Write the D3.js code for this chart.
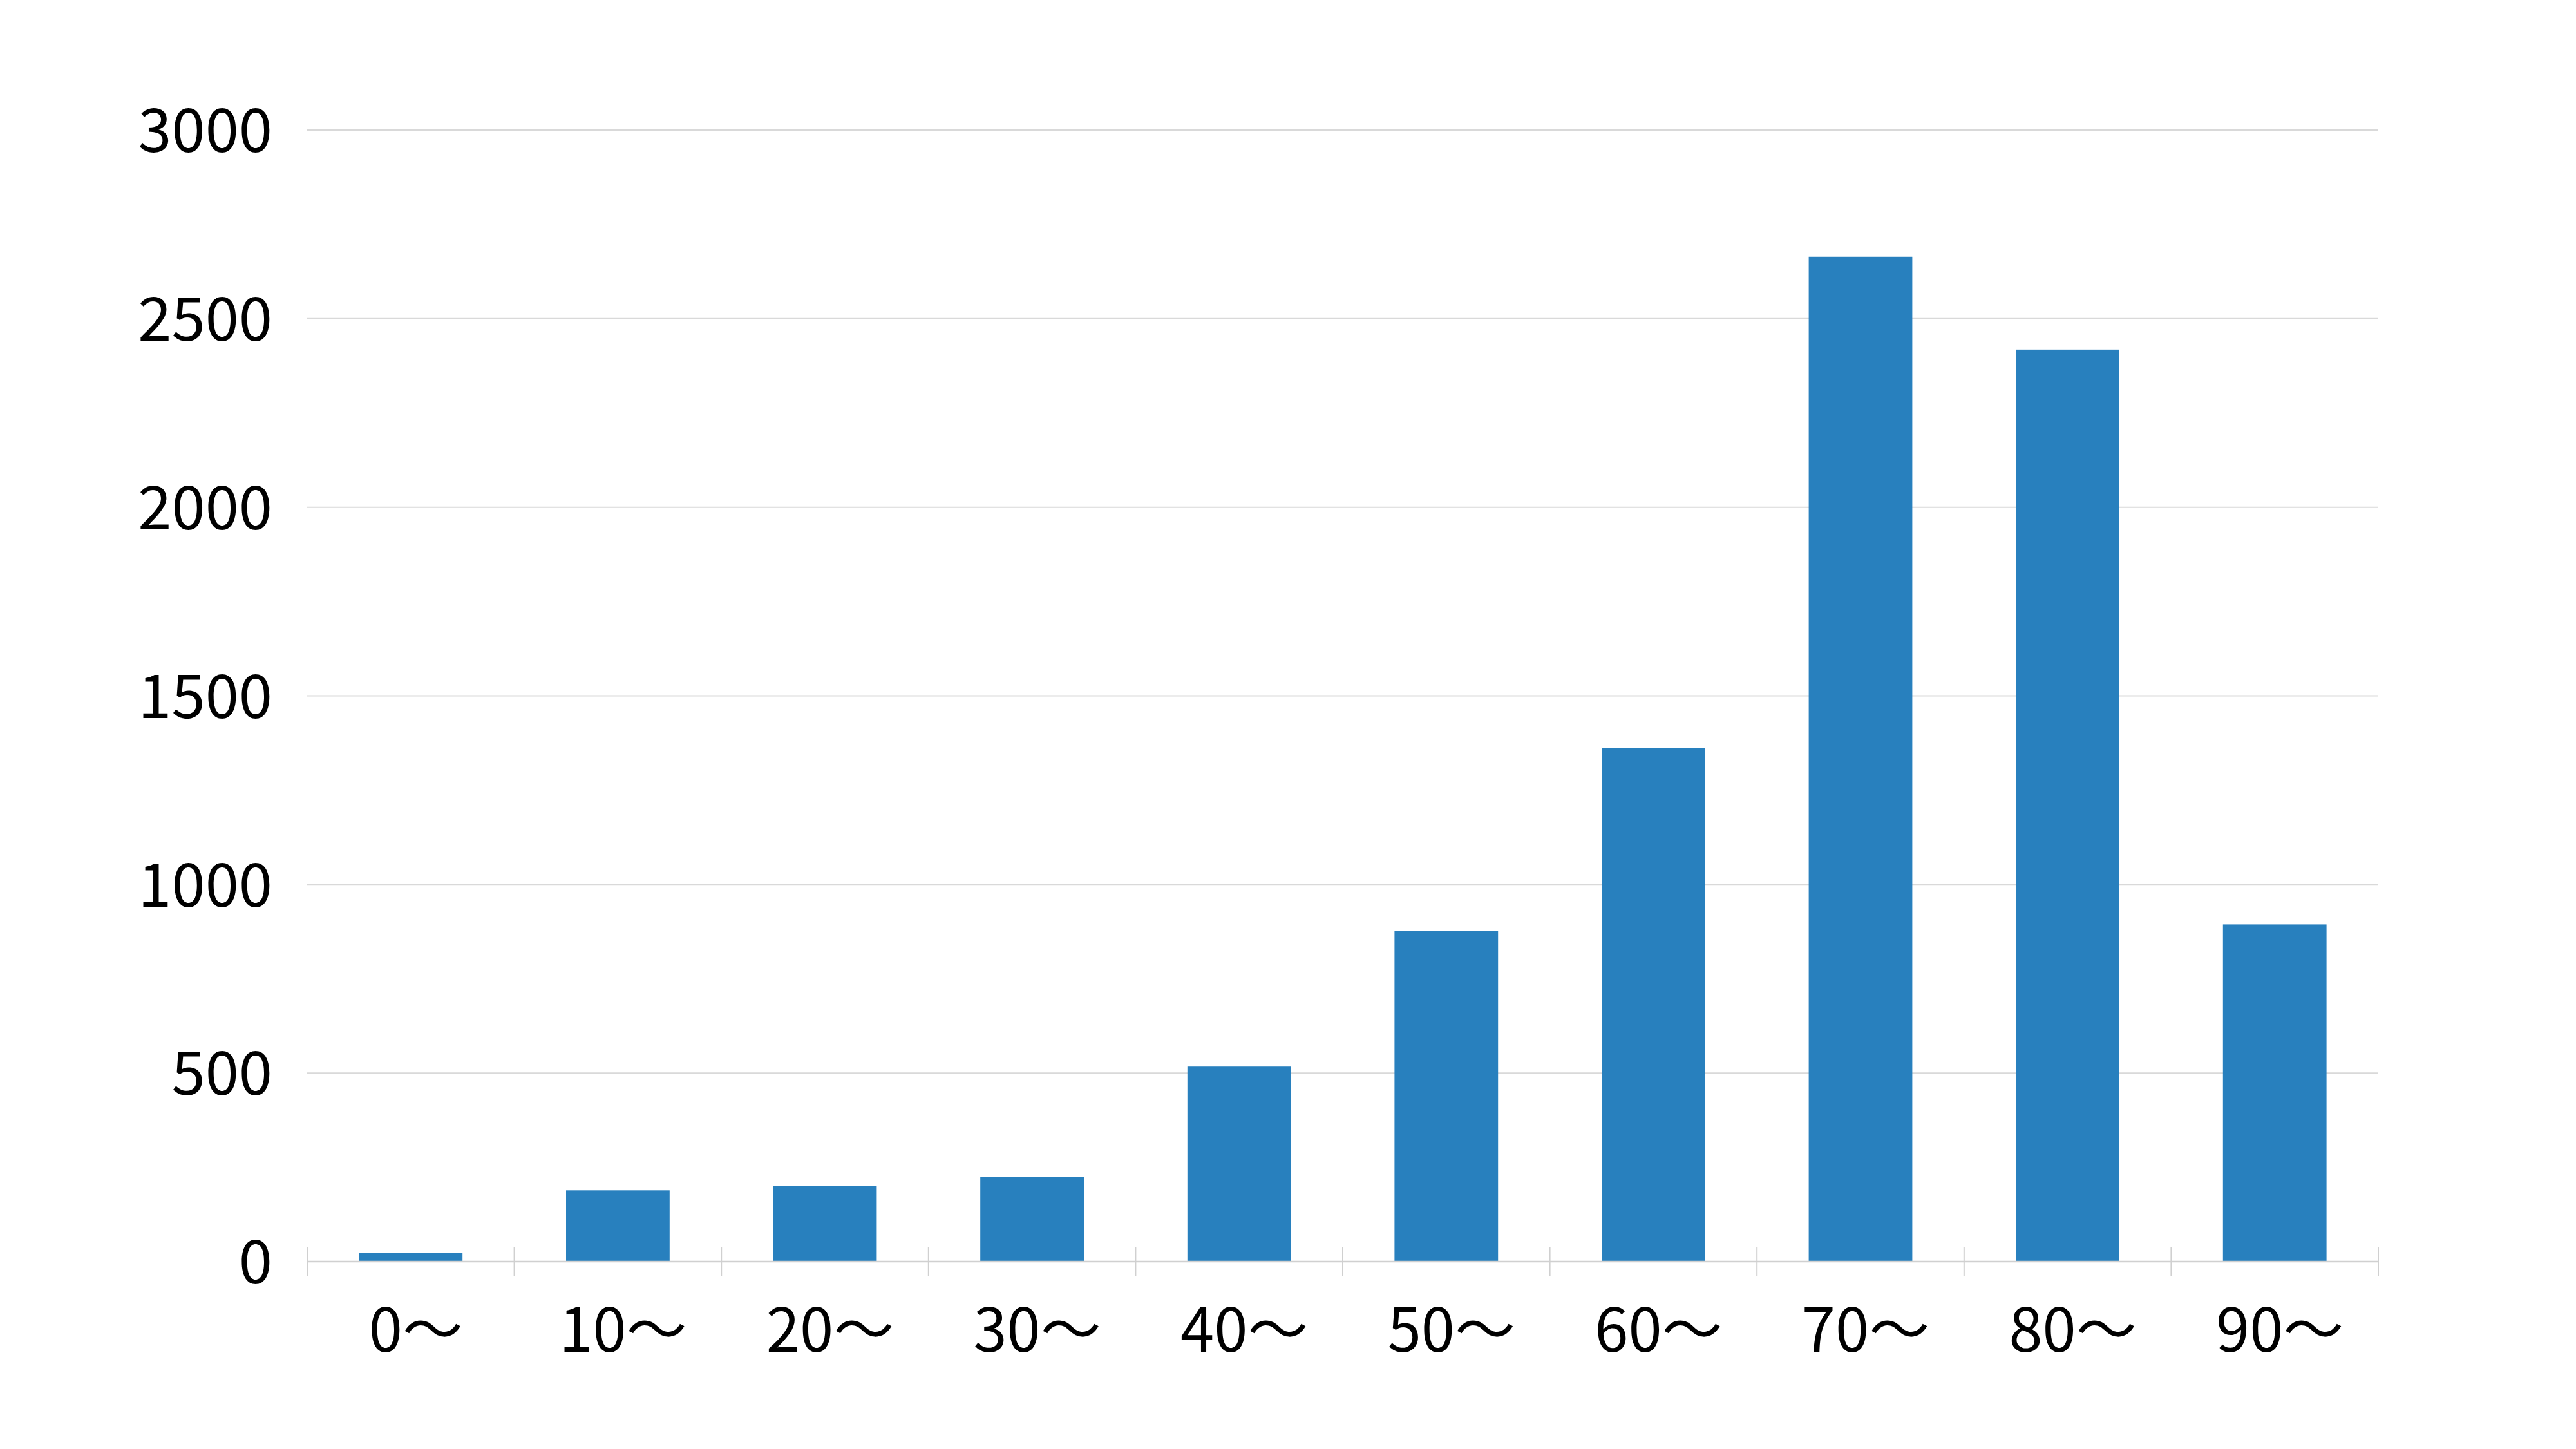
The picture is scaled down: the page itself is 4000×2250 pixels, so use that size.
<!DOCTYPE html>
<html>
<head>
<meta charset="utf-8">
<script src="https://cdn.jsdelivr.net/npm/d3@7"></script>
<style>
  html, body { margin: 0; padding: 0; background: #ffffff; }
  svg { display: block; }
  text { font-family: "Noto Sans CJK JP", "Noto Sans", sans-serif; fill: #000000; }
</style>
</head>
<body>
<script>
const categories = ["0～", "10～", "20～", "30～", "40～", "50～", "60～", "70～", "80～", "90～"];
const values = [23, 189, 200, 225, 517, 876, 1361, 2664, 2418, 894];
const yTicks = [0, 500, 1000, 1500, 2000, 2500, 3000];

const W = 4000, H = 2250;
const margin = { left: 477, right: 4000 - 3693, top: 202, bottom: 2250 - 1959 };
const fontSize = 94;

const svg = d3.select("body").append("svg").attr("width", W).attr("height", H);

const x = d3.scaleBand().domain(categories)
  .range([margin.left, W - margin.right])
  .paddingInner(0.5).paddingOuter(0.25);
const y = d3.scaleLinear().domain([0, 3000]).range([H - margin.bottom, margin.top]);

// gridlines
svg.append("g").selectAll("line").data(yTicks.filter(d => d > 0)).join("line")
  .attr("x1", margin.left).attr("x2", W - margin.right)
  .attr("y1", d => y(d)).attr("y2", d => y(d))
  .attr("stroke", "#d9d9d9").attr("stroke-width", 2);

// y labels
svg.append("g").selectAll("text").data(yTicks).join("text")
  .attr("x", 423).attr("y", d => y(d) + fontSize * 0.365)
  .attr("text-anchor", "end").attr("font-size", fontSize)
  .text(d => d);

// bars
svg.append("g").selectAll("rect").data(values).join("rect")
  .attr("x", (d, i) => x(categories[i]))
  .attr("width", x.bandwidth())
  .attr("y", d => y(d))
  .attr("height", d => y(0) - y(d))
  .attr("fill", "#2880be");

// x axis line
svg.append("line")
  .attr("x1", margin.left).attr("x2", W - margin.right)
  .attr("y1", y(0)).attr("y2", y(0))
  .attr("stroke", "#d0d0d0").attr("stroke-width", 2.5);

// tick marks at category boundaries
const step = x.step();
svg.append("g").selectAll("line").data(d3.range(categories.length + 1)).join("line")
  .attr("x1", i => margin.left + i * step).attr("x2", i => margin.left + i * step)
  .attr("y1", y(0) - 22).attr("y2", y(0) + 23)
  .attr("stroke", "#d0d0d0").attr("stroke-width", 2);

// x labels
svg.append("g").selectAll("text").data(categories).join("text")
  .attr("x", d => x(d) + x.bandwidth() / 2 + 8)
  .attr("y", 2099)
  .attr("text-anchor", "middle").attr("font-size", fontSize)
  .text(d => d);
</script>
</body>
</html>
